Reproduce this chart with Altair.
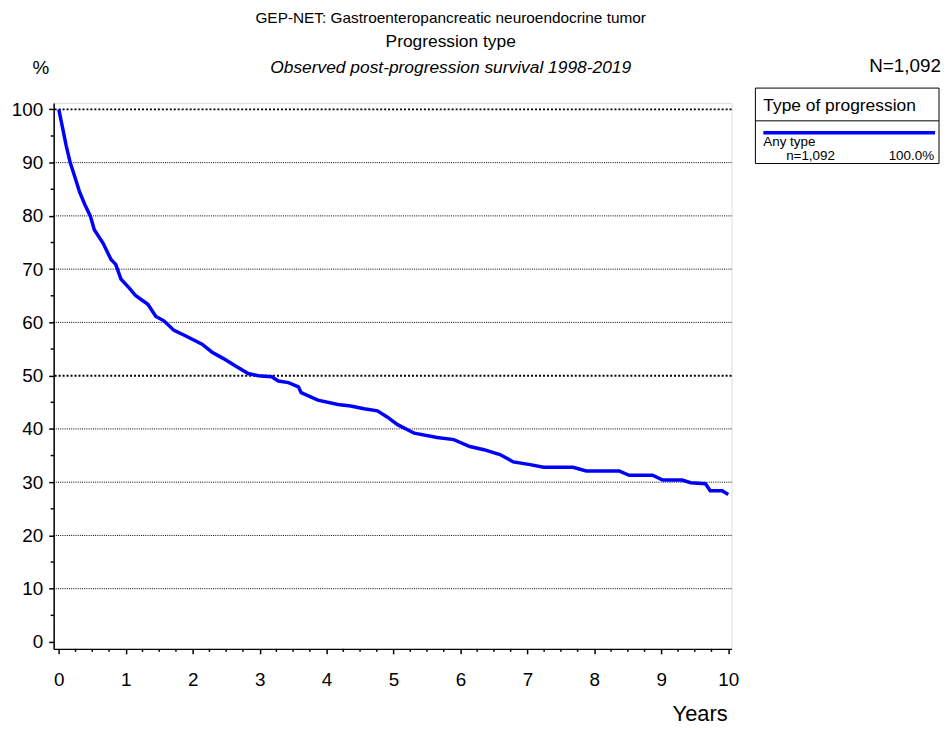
import altair as alt
import pandas as pd

# ---- data ----
years = [0, 0.06, 0.11, 0.17, 0.24, 0.31, 0.39, 0.47, 0.53, 0.66, 0.78, 0.85, 0.93,
         1.05, 1.15, 1.33, 1.45, 1.57, 1.72, 1.89, 2.14, 2.29, 2.46, 2.64, 2.83, 2.98,
         3.18, 3.28, 3.43, 3.58, 3.62, 3.87, 4.17, 4.36, 4.56, 4.76, 4.91, 5.06, 5.31,
         5.65, 5.90, 6.14, 6.35, 6.59, 6.79, 7.04, 7.24, 7.68, 7.88, 8.37, 8.52, 8.87,
         9.02, 9.31, 9.44, 9.66, 9.73, 9.91, 10.0]
survival = [100, 96.3, 93.2, 90, 87.3, 84.5, 82.1, 80, 77.4, 74.9, 71.8, 70.9, 68.1,
            66.5, 65, 63.4, 61.1, 60.3, 58.5, 57.5, 55.9, 54.4, 53.2, 51.8, 50.4, 50.0,
            49.8, 49.0, 48.7, 47.9, 46.8, 45.4, 44.6, 44.3, 43.8, 43.4, 42.2, 40.8, 39.2,
            38.4, 38.0, 36.7, 36.1, 35.2, 33.8, 33.3, 32.8, 32.8, 32.1, 32.1, 31.3, 31.3,
            30.4, 30.4, 29.9, 29.7, 28.4, 28.4, 27.7]

x_ticks = list(range(0, 11))
y_ticks = list(range(0, 101, 10))
x_minor = [i / 4 for i in range(41) if i % 4]
y_minor = list(range(5, 100, 10))
grid_thin = [10, 20, 30, 40, 60, 70, 80, 90]
grid_bold = [50, 100]

title_1 = "GEP-NET: Gastroenteropancreatic neuroendocrine tumor"
title_2 = "Progression type"
title_3 = "Observed post-progression survival 1998-2019"
y_label = "%"
n_label = "N=1,092"
x_label = "Years"
legend_title = "Type of progression"
legend_series = "Any type"
legend_n = "n=1,092"
legend_pct = "100.0%"

FONT = "Liberation Sans"
W, H = 683, 550
BLUE = "#0000ff"

xscale = alt.Scale(domain=[-0.077, 10.05], nice=False, zero=False)
yscale = alt.Scale(domain=[-1.3, 101.2], nice=False, zero=False)

x_axis = alt.Axis(
    values=x_ticks, title=None, grid=False, tickSize=5, tickWidth=1.5,
    tickColor="black", domainColor="black", domainWidth=1.5,
    labelFont=FONT, labelFontSize=19, labelColor="black", labelPadding=17,
    labelFlush=False)
y_axis = alt.Axis(
    values=y_ticks, title=None, grid=False, tickSize=5, tickWidth=1.5,
    tickColor="black", domainColor="black", domainWidth=1.5,
    labelFont=FONT, labelFontSize=19, labelColor="black", labelPadding=6,
    labelFlush=False)

curve = alt.Chart(pd.DataFrame({"t": years, "s": survival})).mark_line(
    color=BLUE, strokeWidth=3.5
).encode(
    x=alt.X("t:Q", scale=xscale, axis=x_axis),
    y=alt.Y("s:Q", scale=yscale, axis=y_axis),
)

grid_thin_layer = alt.Chart(pd.DataFrame({"g": grid_thin})).mark_rule(
    color="black", strokeWidth=1, strokeDash=[1, 1.2]
).encode(y=alt.Y("g:Q", scale=yscale, axis=y_axis))

grid_bold_layer = alt.Chart(pd.DataFrame({"g": grid_bold})).mark_rule(
    color="black", strokeWidth=2, strokeDash=[2, 2]
).encode(y=alt.Y("g:Q", scale=yscale, axis=y_axis))

x_minor_layer = alt.Chart(pd.DataFrame({"m": x_minor})).mark_rule(
    color="black", strokeWidth=1.5
).encode(x=alt.X("m:Q", scale=xscale, axis=x_axis), y=alt.value(H), y2=alt.value(H + 3))

y_minor_layer = alt.Chart(pd.DataFrame({"m": y_minor})).mark_rule(
    color="black", strokeWidth=1.5
).encode(y=alt.Y("m:Q", scale=yscale, axis=y_axis), x=alt.value(0), x2=alt.value(-3))


def label(text, x, y, size, align="center", style="normal"):
    return alt.Chart(pd.DataFrame({"txt": [text]})).mark_text(
        font=FONT, fontSize=size, align=align, baseline="alphabetic",
        fontStyle=style, color="black"
    ).encode(text="txt:N", x=alt.value(x), y=alt.value(y))


texts = [
    label(title_1, 400, -81, 15.5),
    label(title_2, 400, -56, 17.5),
    label(title_3, 400, -30, 17.5, style="italic"),
    label(y_label, -13, -29, 19),
    label(n_label, 894, -31, 19, align="right"),
    label(x_label, 679, 623, 22, align="right"),
]

box = alt.Chart(pd.DataFrame({"k": [0]})).mark_rect(
    fillOpacity=0, stroke="black", strokeWidth=1
).encode(x=alt.value(707), x2=alt.value(892), y=alt.value(-15), y2=alt.value(61))

sep = alt.Chart(pd.DataFrame({"k": [0]})).mark_rule(color="black", strokeWidth=1).encode(
    x=alt.value(707), x2=alt.value(892), y=alt.value(18))

swatch = alt.Chart(pd.DataFrame({"k": [0]})).mark_rule(color=BLUE, strokeWidth=3.5).encode(
    x=alt.value(715), x2=alt.value(888), y=alt.value(30))

legend = [
    box, sep, swatch,
    label(legend_title, 715, 8, 17.5, align="left"),
    label(legend_series, 715, 43, 13.5, align="left"),
    label(legend_n, 738, 57, 13.5, align="left"),
    label(legend_pct, 887, 57, 13.5, align="right"),
]

chart = alt.layer(
    grid_thin_layer, grid_bold_layer, curve, x_minor_layer, y_minor_layer, *texts, *legend
).properties(
    width=W, height=H,
    autosize=alt.AutoSizeParams(type="none"),
    padding={"left": 46, "top": 93, "right": 211, "bottom": 74},
).configure_view(stroke="transparent", strokeWidth=0).configure(font=FONT)

chart.save("out.html", embed_options={"renderer": "svg", "actions": False})
